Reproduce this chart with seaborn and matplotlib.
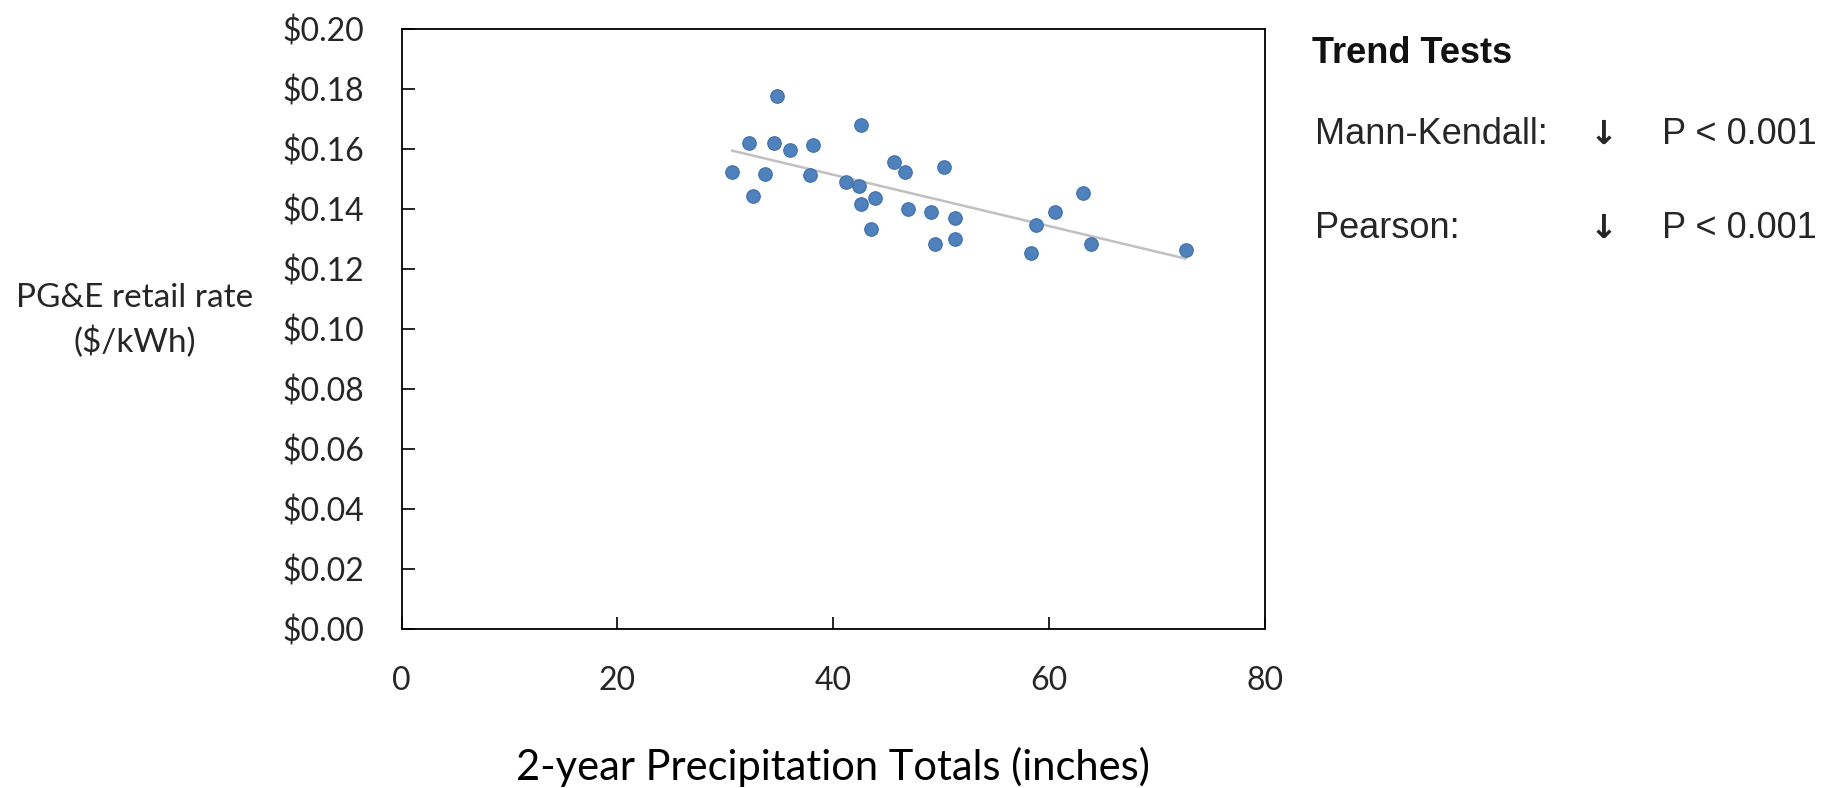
import matplotlib
matplotlib.use("Agg")
import matplotlib.pyplot as plt
import seaborn as sns
import pandas as pd
from matplotlib.ticker import FuncFormatter

# 2-year precipitation totals (inches) vs PG&E retail rate ($/kWh)
precip = [30.6, 32.2, 32.6, 33.7, 34.8, 34.5, 36.0, 38.1, 37.9, 41.2,
          42.6, 42.4, 42.6, 43.9, 43.5, 45.6, 46.7, 46.9, 49.1, 49.4,
          50.3, 51.3, 51.3, 58.3, 58.8, 60.6, 63.2, 63.9, 72.7]
rate = [0.1525, 0.1622, 0.1444, 0.1519, 0.1778, 0.1622, 0.1598, 0.1615, 0.1513, 0.1492,
        0.1682, 0.1479, 0.1418, 0.1436, 0.1335, 0.1559, 0.1525, 0.1400, 0.1390, 0.1285,
        0.1540, 0.1371, 0.1300, 0.1255, 0.1349, 0.1390, 0.1455, 0.1283, 0.1263]

x_ticks = [0, 20, 40, 60, 80]
y_ticks = [0.00, 0.02, 0.04, 0.06, 0.08, 0.10, 0.12, 0.14, 0.16, 0.18, 0.20]

y_label_lines = ["PG&E retail rate", "($/kWh)"]
test_names = ["Mann-Kendall:", "Pearson:"]
test_results = ["P < 0.001", "P < 0.001"]

df = pd.DataFrame({"precip": precip, "rate": rate})

sns.set_theme(style="white")
plt.rcParams["font.family"] = ["Lato", "DejaVu Sans"]

fig = plt.figure(figsize=(18.24, 7.88), dpi=100)
ax = fig.add_axes([0.2202, 0.2018, 0.4731, 0.7610])

# trend line first so the dots sit on top
sns.regplot(data=df, x="precip", y="rate", scatter=False, ci=None, ax=ax,
            line_kws={"color": "#c0c0c0", "linewidth": 1.8})
sns.scatterplot(data=df, x="precip", y="rate", ax=ax, s=95,
                color="#4f81bd", edgecolor="#3f6fa8", linewidth=0.8, zorder=3)

ax.set_xlim(0, 80)
ax.set_ylim(0, 0.20)
ax.set_xticks(x_ticks)
ax.set_yticks(y_ticks)
ax.yaxis.set_major_formatter(FuncFormatter(lambda v, _: f"${v:.2f}"))
ax.tick_params(axis="both", direction="in", length=9, width=1.2,
               bottom=True, left=True, color="black",
               labelsize=23, labelcolor="#262626")
ax.tick_params(axis="y", pad=27)
ax.tick_params(axis="x", pad=27)
for sp in ax.spines.values():
    sp.set_color("black")
    sp.set_linewidth(1.3)
ax.set_xlabel("")
ax.set_ylabel("")

# horizontal y label, two lines
for line, yy in zip(y_label_lines, [0.6108, 0.5537]):
    fig.text(0.074, yy, line, ha="center", va="baseline",
             fontsize=24, color="#262626")
fig.text(0.4567, 0.0102, "2-year Precipitation Totals (inches)", ha="center",
         va="baseline", fontsize=30, color="black")

# trend test panel on the right
arial = ["Liberation Sans", "DejaVu Sans"]
fig.text(0.7191, 0.9197, "Trend Tests", ha="left", va="baseline", fontsize=26,
         fontweight="bold", family=arial, color="#111111")
rows_y = [0.8173, 0.6976]
for name, res, yy in zip(test_names, test_results, rows_y):
    fig.text(0.7209, yy, name, ha="left", va="baseline", fontsize=26,
             family=arial, color="#262626")
    fig.text(0.8794, yy, "\u2193", ha="center", va="baseline", fontsize=24,
             fontweight="bold", family=["DejaVu Sans"], color="#262626")
    fig.text(0.911, yy, res, ha="left", va="baseline", fontsize=26,
             family=arial, color="#262626")

fig.savefig("out.png", dpi=100, facecolor="white")
